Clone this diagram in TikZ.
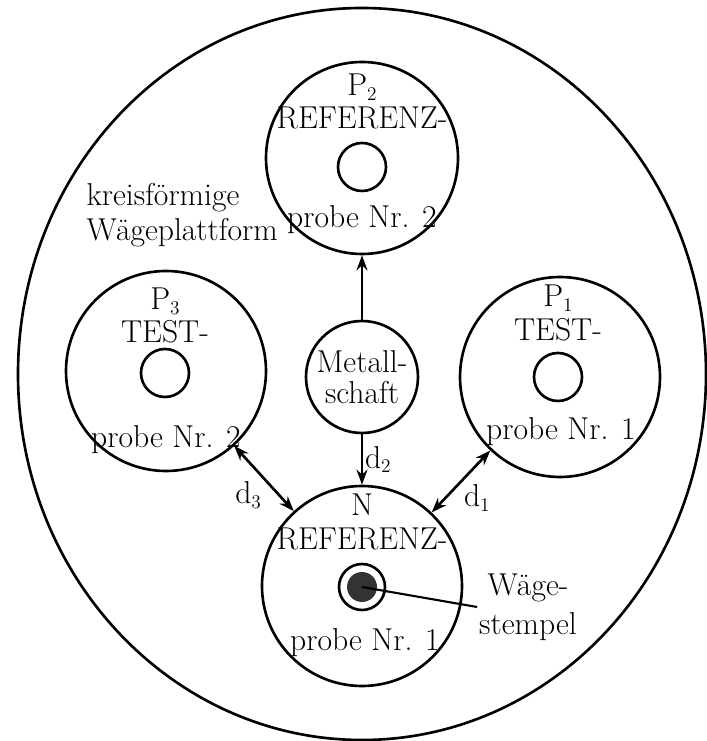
\documentclass[tikz,border=0pt]{standalone}
\usepackage{tikz}
\usetikzlibrary{arrows,arrows.meta,shapes.geometric,positioning}
\newcommand{\psub}[1]{\raisebox{-0.35ex}{\fontsize{11}{11}\selectfont #1}}

\begin{document}
\begin{tikzpicture}[
	disc/.style={draw, circle, line width=1.5pt, minimum size=4cm, inner sep=0pt},
	hole/.style={draw, circle, line width=1.5pt, minimum size=0.96cm, inner sep=0pt},
	txt/.style={font=\fontsize{18}{20}\selectfont, inner sep=1pt},
	head/.style={txt, align=center, font=\fontsize{18}{19}\selectfont},
	arr/.style={-{Stealth[length=3mm, width=2.2mm]}, line width=1.5pt},
	darr/.style={{Stealth[length=3mm, width=2.2mm]}-{Stealth[length=3mm, width=2.2mm]}, line width=1.5pt}
]
	\useasboundingbox (-7.24, 7.48) rectangle (6.88, -7.34);
	% platform
	\node[draw, ellipse, line width=1.5pt, minimum width=13.76cm,
		minimum height=14.64cm, inner sep=0pt] (platform) at (0, 0) {};
	\node[txt, anchor=west, align=left] (platlabel) at (-5.55, 3.18)
		{kreisförmige\\ Wägeplattform};
	% samples
	\node[disc, minimum size=3.84cm] (p2) at (0, 4.32) {};
	\node[disc] (p3) at (-3.92, 0.06) {};
	\node[disc] (p1) at (3.96, -0.06) {};
	\node[disc] (n) at (0, -4.24) {};
	\node[disc, minimum size=2.24cm, txt, font=\fontsize{18}{18}\selectfont,
		align=center] (shaft) at (0, -0.06) {Metall-\\ schaft};
	% P2
	\node[head] (p2name) at (0, 5.45) {P\psub{2}\\ REFERENZ-};
	\node[hole] (p2hole) at (0, 4.14) {};
	\node[txt] (p2probe) at (0, 3.08) {probe Nr. 2};
	% P3
	\node[head] (p3name) at (-3.94, 1.17) {P\psub{3}\\ TEST-};
	\node[hole] (p3hole) at (-3.94, 0.02) {};
	\node[txt] (p3probe) at (-3.92, -1.32) {probe Nr. 2};
	% P1
	\node[head] (p1name) at (3.92, 1.22) {P\psub{1}\\ TEST-};
	\node[hole] (p1hole) at (3.92, -0.06) {};
	\node[txt] (p1probe) at (3.98, -1.16) {probe Nr. 1};
	% N
	\node[head] (nname) at (0, -2.96) {N\\ REFERENZ-};
	\node[hole, minimum size=0.92cm] (ring) at (0, -4.26) {};
	\node[circle, fill=black!80, minimum size=0.6cm, inner sep=0pt] (stamp) at (ring) {};
	\node[txt] (nprobe) at (0.06, -5.38) {probe Nr. 1};
	\node[txt, align=center, font=\fontsize{18}{22}\selectfont] (stamplabel)
		at (3.32, -4.66) {Wäge-\\ stempel};
	\draw[line width=1.2pt] (stamp.center) -- (stamplabel.west);
	% connectors
	\draw[arr] (shaft) -- (p2);
	\draw[arr] (shaft) -- (n)
		node[midway, right, txt] {d\psub{2}};
	\draw[darr] (p3) -- (n)
		node[midway, below left, txt] {d\psub{3}};
	\draw[darr] (p1) -- (n)
		node[midway, below right, txt] {d\psub{1}};
\end{tikzpicture}
\end{document}
